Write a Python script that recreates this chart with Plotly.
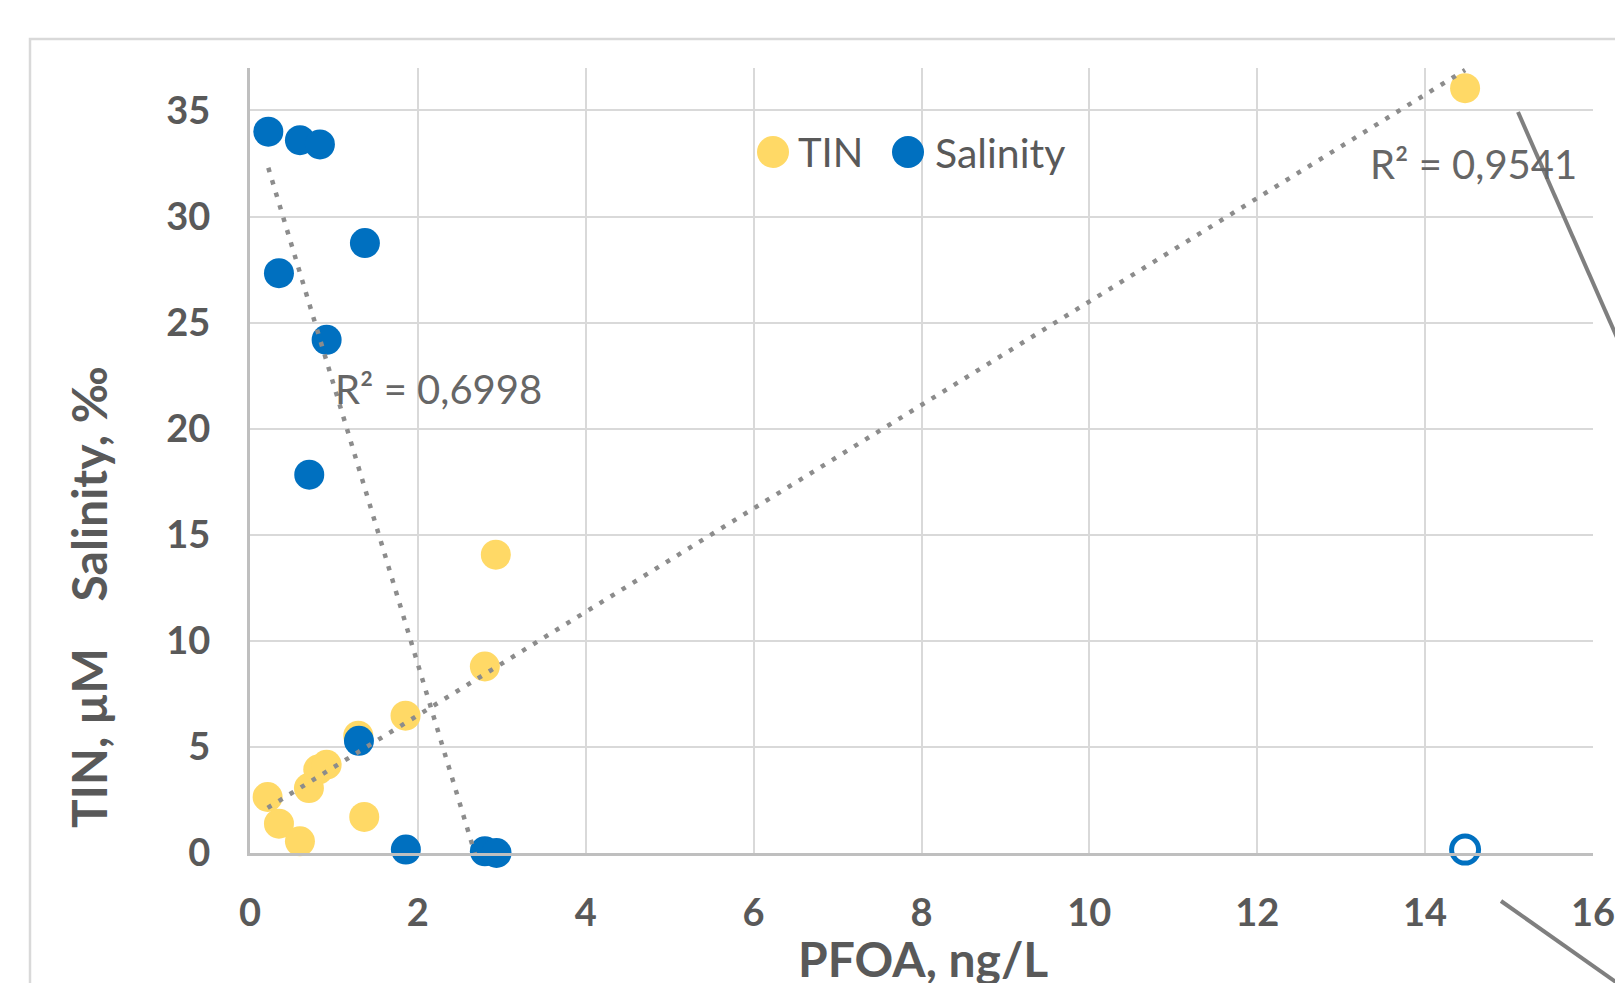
import numpy as np
import plotly.graph_objects as go

# ---------------- data ----------------
sal_pfoa = [0.218, 0.595, 0.833, 1.369, 0.345, 0.913, 0.706, 1.298, 1.857, 2.798, 2.937]
salinity = [34.0, 33.6, 33.4, 28.75, 27.33, 24.19, 17.83, 5.29, 0.16, 0.08, 0.0]

sal_out_pfoa = [14.476]
sal_out = [0.16]

tin_pfoa = [0.21, 0.345, 0.595, 0.702, 0.813, 0.913, 1.29, 1.361, 1.853, 2.798, 2.929, 14.476]
tin = [2.64, 1.38, 0.55, 3.06, 3.93, 4.16, 5.53, 1.70, 6.47, 8.79, 14.06, 36.05]

x_ticks = [0, 2, 4, 6, 8, 10, 12, 14, 16]
y_ticks = [0, 5, 10, 15, 20, 25, 30, 35]

r2_tin_label = "R² = 0,9541"
r2_sal_label = "R² = 0,6998"

# ---------------- style ----------------
YELLOW = "#FFD966"
BLUE = "#0070C0"
GRID = "#d9d9d9"
AXIS = "#bfbfbf"
TXT = "#595959"
FONT = "Lato, 'Liberation Sans', Arial, sans-serif"

W, H = 1615, 983
L, R, T, B = 250, 1593, 68, 853
PW, PH = R - L, B - T


def px(xp):
    return (xp - L) / PW


def py(yp):
    return (B - yp) / PH


fig = go.Figure()

fig.add_trace(go.Scatter(
    x=tin_pfoa, y=tin, mode="markers", name="TIN",
    marker=dict(size=30, color=YELLOW, line=dict(width=0)),
    cliponaxis=False, showlegend=False))

fig.add_trace(go.Scatter(
    x=sal_pfoa, y=salinity, mode="markers", name="Salinity",
    marker=dict(size=30, color=BLUE, line=dict(width=0)),
    cliponaxis=False, showlegend=False))

fig.add_trace(go.Scatter(
    x=sal_out_pfoa, y=sal_out, mode="markers", name="Salinity (excluded)",
    marker=dict(size=27, color="white", line=dict(width=5, color=BLUE)),
    cliponaxis=False, showlegend=False))

# linear trendlines computed from the data
for xs, ys in [(tin_pfoa, tin), (sal_pfoa, salinity)]:
    k, b0 = np.polyfit(xs, ys, 1)
    xl = np.array([min(xs), max(xs)])
    fig.add_trace(go.Scatter(
        x=xl, y=k * xl + b0, mode="lines",
        line=dict(color="#8c8c8c", width=4.5, dash="4.5px,8.5px"),
        showlegend=False, hoverinfo="skip"))

axis_common = dict(
    showgrid=True, gridcolor=GRID, gridwidth=2,
    showline=True, linecolor=AXIS, linewidth=3,
    zeroline=False, ticks="", ticklabeloverflow="allow", automargin=False,
    tickfont=dict(family=FONT, size=38, color=TXT, weight="bold"),
)

fig.update_xaxes(range=[0, 16], tickvals=x_ticks, ticktext=[str(v) for v in x_ticks],
                 ticklabelstandoff=24, **axis_common)
fig.update_yaxes(range=[0, 37], tickvals=y_ticks, ticktext=[str(v) for v in y_ticks],
                 ticklabelstandoff=29, **axis_common)

annotations = [
    dict(x=px(923), y=py(958), xref="paper", yref="paper", text="PFOA, ng/L",
         showarrow=False, xanchor="center", yanchor="middle",
         font=dict(family=FONT, size=48, color=TXT, weight="bold")),
    dict(x=px(88), y=py(597), xref="paper", yref="paper",
         text="TIN, µM\u00a0\u00a0\u00a0\u00a0Salinity, ‰", textangle=-90,
         showarrow=False, xanchor="center", yanchor="middle",
         font=dict(family=FONT, size=48, color=TXT, weight="bold")),
    dict(x=px(333), y=py(389), xref="paper", yref="paper", text=r2_sal_label,
         showarrow=False, xanchor="left", yanchor="middle",
         font=dict(family=FONT, size=40, color="#666666")),
    dict(x=px(1368), y=py(164), xref="paper", yref="paper", text=r2_tin_label,
         showarrow=False, xanchor="left", yanchor="middle",
         font=dict(family=FONT, size=40, color="#666666")),
    dict(x=px(796), y=py(152), xref="paper", yref="paper", text="TIN",
         showarrow=False, xanchor="left", yanchor="middle",
         font=dict(family=FONT, size=40, color=TXT)),
    dict(x=px(933), y=py(152), xref="paper", yref="paper", text="Salinity",
         showarrow=False, xanchor="left", yanchor="middle",
         font=dict(family=FONT, size=41, color=TXT)),
]

shapes = [
    # chart area border (extends past the crop)
    dict(type="rect", xref="paper", yref="paper", x0=px(30), y0=py(39), x1=px(1800), y1=py(1200),
         line=dict(color=GRID, width=2.5), fillcolor="rgba(0,0,0,0)", layer="below"),
    # legend symbols
    dict(type="circle", xref="paper", yref="paper", xsizemode="pixel", ysizemode="pixel",
         xanchor=px(773), yanchor=py(152), x0=-16, x1=16, y0=-16, y1=16,
         fillcolor=YELLOW, line=dict(width=0)),
    dict(type="circle", xref="paper", yref="paper", xsizemode="pixel", ysizemode="pixel",
         xanchor=px(908), yanchor=py(152), x0=-16, x1=16, y0=-16, y1=16,
         fillcolor=BLUE, line=dict(width=0)),
    # callout connector lines
    dict(type="line", xref="paper", yref="paper", x0=px(1518), y0=py(112), x1=px(1640), y1=py(390),
         line=dict(color="#7f7f7f", width=4)),
    dict(type="line", xref="paper", yref="paper", x0=px(1501), y0=py(901), x1=px(1640), y1=py(999),
         line=dict(color="#7f7f7f", width=4)),
]

fig.update_layout(
    width=W, height=H, autosize=False,
    margin=dict(l=L, r=W - R, t=T, b=H - B, pad=0),
    paper_bgcolor="white", plot_bgcolor="white",
    showlegend=False,
    annotations=annotations, shapes=shapes,
    font=dict(family=FONT, color=TXT),
)

post = (
    "document.documentElement.style.overflow='hidden';"
    "document.body.style.margin='0';document.body.style.overflow='hidden';"
)

fig.write_html("out.html", config={"displayModeBar": False, "responsive": False},
               post_script=post)
